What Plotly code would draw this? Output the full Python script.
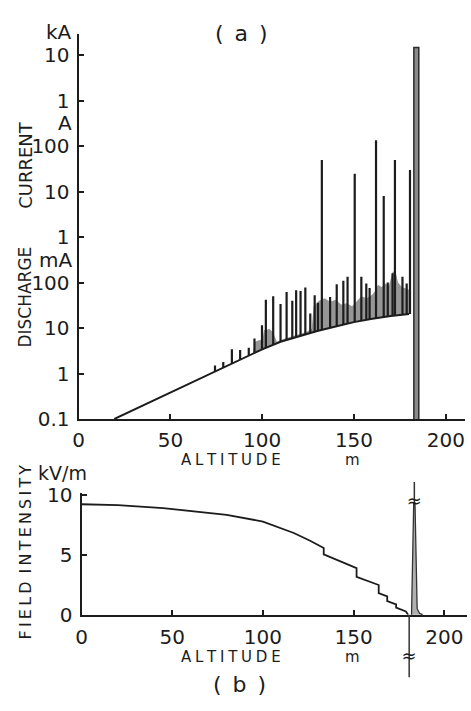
import numpy as np
import plotly.graph_objects as go

# ---------------- data (a) discharge current vs altitude ----------------
# smooth corona-current baseline (A)
base_alt = [19.5, 30, 40, 50, 60, 70, 80, 90, 100, 110, 120, 130, 140, 150, 160, 170, 180]
base_cur = [1.0e-4, 1.58e-4, 2.45e-4, 3.8e-4, 5.9e-4, 9.1e-4, 1.41e-3, 2.19e-3, 3.4e-3,
            5.0e-3, 6.6e-3, 8.6e-3, 1.08e-2, 1.35e-2, 1.6e-2, 1.85e-2, 2.05e-2]

# upper envelope of the dense (grey) pulse region (A)
env_alt = [95, 96, 99, 100, 101, 104, 106, 108, 112, 118, 124, 127, 128, 131, 134, 137, 140,
           143, 146, 149, 152, 154, 157, 160, 162, 163, 165, 167, 169, 170, 171, 172, 173,
           174, 176, 178, 180]
env_cur = [2.8e-3, 5.0e-3, 5.5e-3, 5.0e-3, 9.0e-3, 9.5e-3, 8.0e-3, 5.0e-3, 5.8e-3, 6.9e-3,
           8.2e-3, 9.5e-3, 3.0e-2, 4.0e-2, 4.5e-2, 3.8e-2, 4.2e-2, 3.3e-2, 3.5e-2, 3.0e-2,
           4.0e-2, 5.0e-2, 4.5e-2, 5.5e-2, 7.0e-2, 9.0e-2, 8.0e-2, 9.5e-2, 8.5e-2, 1.2e-1,
           1.7e-1, 1.8e-1, 1.5e-1, 1.0e-1, 8.0e-2, 7.5e-2, 7.0e-2]

# individual discharge pulses: altitude (m) and peak current (A)
spike_alt = [74.3, 78.8, 83.5, 88.0, 92.7, 95.8, 99.9, 102.0, 106.0, 110.0, 113.3, 116.4,
             118.5, 120.9, 123.5, 126.2, 128.6, 130.4, 132.5, 137.0, 140.6, 144.2, 146.5,
             150.4, 154.0, 156.7, 158.5, 162.0, 166.2, 168.4, 171.0, 172.3, 176.4, 178.7, 180.5]
spike_cur = [1.5e-3, 1.8e-3, 3.4e-3, 3.3e-3, 3.7e-3, 5.9e-3, 1.15e-2, 4.2e-2, 5.0e-2, 3.4e-2,
             6.2e-2, 4.0e-2, 6.8e-2, 6.5e-2, 7.8e-2, 2.1e-2, 5.3e-2, 3.6e-2, 50, 4.8e-2,
             9.2e-2, 0.11, 0.134, 25, 0.134, 0.096, 0.076, 135, 8, 0.10, 0.16, 50, 0.134,
             0.095, 30]

# the main discharge
main_alt_lo, main_alt_hi = 182.6, 185.3
main_cur = 1.5e4
axis_floor = 1e-4

# tick labels
cur_tickvals = [1e-4, 1e-3, 1e-2, 1e-1, 1e0, 1e1, 1e2, 1e3, 1e4]
cur_ticktext = ["0.1", "1", "10", "100", "1", "10", "100", "1", "10"]
alt_tickvals = [0, 50, 100, 150, 200]

# ---------------- data (b) field intensity vs altitude ----------------
field_alt = [0, 20, 45, 65, 80, 100, 114, 117, 126, 133.5, 133.5, 151.6, 151.6, 163.8, 163.8,
             168.5, 168.5, 173.4, 173.4, 178.8, 180.0]
field_val = [9.19, 9.12, 8.87, 8.55, 8.3, 7.75, 7.0, 6.8, 6.15, 5.55, 5.02, 3.87, 3.15, 2.47,
             1.8, 1.53, 1.13, 0.86, 0.59, 0.27, 0.0]
field_tickvals = [0, 5, 10]

# field spike at the main discharge
fspike_alt = [181.9, 183.1, 183.8, 185.0, 186.3, 188.0]
fspike_val = [0.0, 9.3, 9.3, 0.5, 0.12, 0.0]
fspike_stem_alt = 183.45
fspike_top = 11.05
fspike_break = 9.3
fneg_alt = 180.6
fneg_bottom = -5.2
fneg_break = -3.55

# ---------------- layout helpers ----------------
W, H = 471, 711
INK = "#1c1c1c"
FONT = "DejaVu Sans"


def fx(p):
    return p / W


def fy(p):
    return 1 - p / H


fig = go.Figure()

# grey dense pulse region
b_alt = np.array(base_alt)
b_cur = np.array(base_cur)
mask = (b_alt >= min(env_alt)) & (b_alt <= max(env_alt))
poly_x = list(env_alt) + list(b_alt[mask][::-1])
poly_y = list(env_cur) + list(b_cur[mask][::-1])
fig.add_trace(go.Scatter(x=poly_x, y=poly_y, fill="toself", fillcolor="#969696",
                         line=dict(width=0), mode="lines", xaxis="x", yaxis="y",
                         hoverinfo="skip"))

# pulses from baseline to peak
log_base_at = np.interp(spike_alt, base_alt, np.log10(base_cur))
sx, sy = [], []
for a, lb, c in zip(spike_alt, log_base_at, spike_cur):
    sx += [a, a, None]
    sy += [10 ** lb, c, None]
fig.add_trace(go.Scatter(x=sx, y=sy, mode="lines", line=dict(color=INK, width=2.2),
                         xaxis="x", yaxis="y", hoverinfo="skip"))

# baseline
fig.add_trace(go.Scatter(x=base_alt, y=base_cur, mode="lines",
                         line=dict(color=INK, width=2), xaxis="x", yaxis="y"))

# main discharge bar
fig.add_trace(go.Scatter(x=[main_alt_lo, main_alt_lo, main_alt_hi, main_alt_hi],
                         y=[axis_floor, main_cur, main_cur, axis_floor],
                         fill="toself", fillcolor="#8a8a8a", mode="lines",
                         line=dict(color="#2a2a2a", width=1.5), xaxis="x", yaxis="y"))

# (b) field curve
fig.add_trace(go.Scatter(x=field_alt, y=field_val, mode="lines",
                         line=dict(color=INK, width=1.8), xaxis="x2", yaxis="y2"))

# (b) spike on an overlay axis with the same scale (so it may leave the frame)
fig.add_trace(go.Scatter(x=fspike_alt, y=fspike_val, fill="toself", fillcolor="#b0b0b0",
                         mode="lines", line=dict(color="#333", width=1.3),
                         xaxis="x3", yaxis="y3"))
fig.add_trace(go.Scatter(x=[fspike_stem_alt, fspike_stem_alt], y=[fspike_break, fspike_top],
                         mode="lines", line=dict(color="#333", width=1.5),
                         xaxis="x3", yaxis="y3"))
fig.add_trace(go.Scatter(x=[fneg_alt, fneg_alt], y=[0, fneg_bottom], mode="lines",
                         line=dict(color="#333", width=1.5), xaxis="x3", yaxis="y3"))
fig.add_trace(go.Scatter(x=[fspike_stem_alt, fneg_alt], y=[fspike_break, fneg_break],
                         mode="text", text=["≈", "≈"],
                         textfont=dict(family=FONT, size=18, color=INK),
                         xaxis="x3", yaxis="y3"))

# domains
top_xdom = [fx(73.5), fx(465)]
top_ydom = [fy(422), fy(24.8)]
bot_xdom = [fx(76.5), fx(467)]
bot_ydom = [fy(624), fy(498)]
bot_ymax = 10.16
k = (bot_ydom[1] - bot_ydom[0]) / bot_ymax
ov_ydom = [fy(700), fy(478)]
ov_range = [(ov_ydom[0] - bot_ydom[0]) / k, (ov_ydom[1] - bot_ydom[0]) / k]

tickfont = dict(family=FONT, size=20, color=INK)
axis_common = dict(showline=True, linecolor=INK, linewidth=2, ticks="inside", ticklen=5,
                   tickwidth=1.5, tickcolor=INK, showgrid=False, zeroline=False,
                   tickfont=tickfont, mirror=False)

fig.update_layout(
    width=W, height=H, margin=dict(l=0, r=0, t=0, b=0),
    paper_bgcolor="white", plot_bgcolor="rgba(0,0,0,0)", showlegend=False,
    xaxis=dict(domain=top_xdom, range=[0, 210.5], anchor="y", tickvals=alt_tickvals,
               ticklabelstandoff=2, **axis_common),
    yaxis=dict(domain=top_ydom, type="log", range=[-4, 4.47], anchor="x",
               tickvals=cur_tickvals, ticktext=cur_ticktext, ticklabelstandoff=3,
               **axis_common),
    xaxis2=dict(domain=bot_xdom, range=[0, 212.5], anchor="y2", tickvals=alt_tickvals,
                ticklabelstandoff=3, **axis_common),
    yaxis2=dict(domain=bot_ydom, range=[0, bot_ymax], anchor="x2",
                tickvals=field_tickvals, ticklabelstandoff=3, **axis_common),
    xaxis3=dict(domain=bot_xdom, range=[0, 212.5], anchor="y3", visible=False),
    yaxis3=dict(domain=ov_ydom, range=ov_range, anchor="x3", visible=False),
)

SP = "\u2005"
TH = "\u2009"


def note(text, x, y, size, angle=0, xanchor="center"):
    fig.add_annotation(text=text, x=fx(x), y=fy(y), xref="paper", yref="paper",
                       showarrow=False, textangle=angle, xanchor=xanchor, yanchor="middle",
                       font=dict(family=FONT, size=size, color=INK))


note("(\u2002a\u2002)", 239, 24, 22)
note("kA", 69, 22.5, 20, xanchor="right")
note("A", 69, 116.5, 20, xanchor="right")
note("mA", 69, 258, 20, xanchor="right")
note("CURRENT", 19, 160, 18, angle=-90)
note("DISCHARGE", 19, 296, 17, angle=-90)
note(SP.join("ALTITUDE"), 228, 464, 15)
note("m", 351, 464, 15)

note("kV/m", 57, 478, 19)
note(TH.join("FIELD") + SP + SP + TH.join("INTENSITY"), 20, 559, 16, angle=-90)
note(SP.join("ALTITUDE"), 228, 668, 15)
note("m", 351, 668, 15)
note("(\u2002b\u2002)", 237, 696, 22)

fig.write_html("out.html")
